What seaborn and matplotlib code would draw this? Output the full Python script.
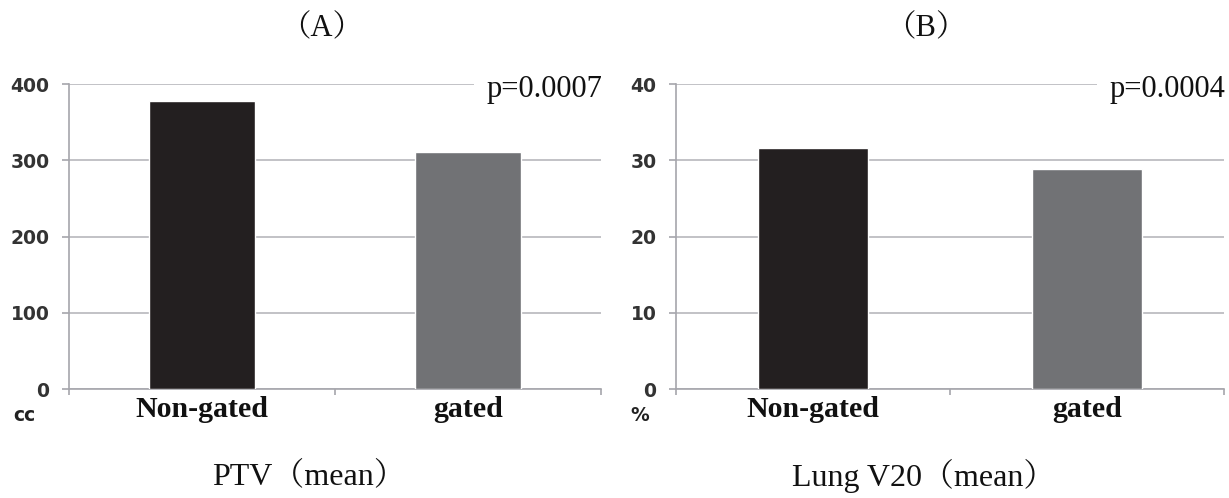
import matplotlib
matplotlib.use("Agg")
import matplotlib.pyplot as plt
import seaborn as sns

# data
groups = ["Non-gated", "gated"]
ptv_mean = [378, 311]        # cc
lung_v20_mean = [31.6, 28.8]  # %
ptv_ticks = [0, 100, 200, 300, 400]
v20_ticks = [0, 10, 20, 30, 40]
bar_colors = ["#231f20", "#717275"]

sns.set_style("white")
serif = ["Liberation Serif", "Noto Serif CJK JP", "Noto Sans CJK JP", "DejaVu Serif"]

W, H = 1229, 498
fig = plt.figure(figsize=(W / 100, H / 100), dpi=100)

panels = [
    dict(x0=69, x1=601, values=ptv_mean, ticks=ptv_ticks, unit="cc", pval="p=0.0007",
         top="（A）", bottom="PTV（mean）", top_x=322, bottom_x=309, unit_x=13),
    dict(x0=676, x1=1224, values=lung_v20_mean, ticks=v20_ticks, unit="%", pval="p=0.0004",
         top="（B）", bottom="Lung V20（mean）", top_x=926, bottom_x=924, unit_x=630),
]
y_top, y_zero = 84, 389

for p in panels:
    ax = fig.add_axes([p["x0"] / W, 1 - y_zero / H, (p["x1"] - p["x0"]) / W, (y_zero - y_top) / H])
    sns.barplot(x=groups, y=p["values"], hue=groups, palette=bar_colors, width=0.4,
                legend=False, saturation=1, ax=ax, zorder=3)
    ax.set_xlim(-0.5, 1.5)
    ax.set_ylim(p["ticks"][0], p["ticks"][-1])
    ax.set_yticks(p["ticks"])
    ax.yaxis.grid(True, color="#c2c2c6", lw=1.4, zorder=0)
    ax.set_axisbelow(True)
    for s in ["top", "right"]:
        ax.spines[s].set_visible(False)
    for s in ["left", "bottom"]:
        ax.spines[s].set_color("#a6a6ac")
        ax.spines[s].set_linewidth(1.2)
    ax.tick_params(axis="y", left=True, length=5, width=1.2, color="#a6a6ac", pad=9,
                   labelsize=13.5, labelcolor="#333333")
    for lbl in ax.get_yticklabels():
        lbl.set_fontweight("bold")
    ax.set_xticks([0, 1])
    ax.set_xticks([-0.5, 0.5, 1.5], minor=True)
    ax.tick_params(axis="x", which="major", length=0, pad=5)
    ax.tick_params(axis="x", which="minor", bottom=True, length=4, width=1.2, color="#a6a6ac")
    ax.set_xticklabels(groups, fontfamily=serif, fontweight="bold", fontsize=21.5, color="#111111")
    ax.set_xlabel("")
    ax.set_ylabel("")
    ax.text(1.002, (y_zero - 97) / (y_zero - y_top), p["pval"], transform=ax.transAxes,
            ha="right", va="baseline", fontfamily=serif, fontsize=22, color="#111111", zorder=5,
            bbox=dict(facecolor="white", edgecolor="none", pad=9))
    fig.text(p["unit_x"] / W, 1 - 415 / H, p["unit"], ha="left", va="center",
             fontsize=13.5, fontweight="bold", color="#222222")
    fig.text(p["top_x"] / W, 1 - 29 / H, p["top"], ha="center", va="center",
             fontfamily=serif, fontsize=22, color="#111111")
    fig.text(p["bottom_x"] / W, 1 - 476 / H, p["bottom"], ha="center", va="center",
             fontfamily=serif, fontsize=23, color="#111111")

fig.savefig("out.png", dpi=100)
